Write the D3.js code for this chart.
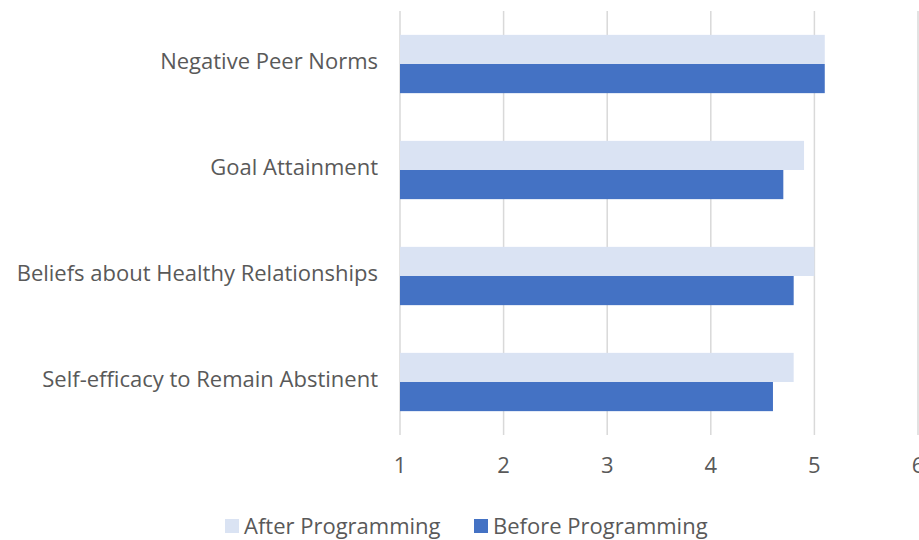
<!DOCTYPE html>
<html>
<head>
<meta charset="utf-8">
<script src="https://cdn.jsdelivr.net/npm/d3@7"></script>
<style>
  body { margin: 0; background: #fff; }
  svg text { font-family: "Open Sans", "Noto Sans", sans-serif; fill: #595959; }
</style>
</head>
<body>
<div class="chart"></div>
<script>
// data
const categories = ['Negative Peer Norms', 'Goal Attainment', 'Beliefs about Healthy Relationships', 'Self-efficacy to Remain Abstinent'];
const seriesNames = ['After Programming', 'Before Programming'];
const afterValues = [5.1, 4.9, 5.0, 4.8];
const beforeValues = [5.1, 4.7, 4.8, 4.6];
const xTicks = [1, 2, 3, 4, 5, 6];

const colors = ['#DAE3F3', '#4472C4'];

const W = 919, H = 540;
const margin = {top: 11, right: 1, bottom: 105, left: 400};
const fontSize = '22px';

const svg = d3.select('.chart')
  .append('svg')
  .attr('width', W)
  .attr('height', H);

const x = d3.scaleLinear()
  .domain([1, 6])
  .range([margin.left, 918]);

const y = d3.scaleBand()
  .domain(categories)
  .range([margin.top, H - margin.bottom])
  .paddingInner(0.45)
  .paddingOuter(0.225);

const y1 = d3.scaleBand()
  .domain(seriesNames)
  .range([0, y.bandwidth()]);

// gridlines
svg.append('g')
  .selectAll('line')
  .data(xTicks)
  .join('line')
  .attr('x1', d => x(d))
  .attr('x2', d => x(d))
  .attr('y1', margin.top)
  .attr('y2', H - margin.bottom)
  .attr('stroke', '#D9D9D9')
  .attr('stroke-width', 1.5);

const rows = categories.map((c, i) => ({cat: c, vals: [afterValues[i], beforeValues[i]]}));

const groups = svg.append('g')
  .selectAll('g')
  .data(rows)
  .join('g')
  .attr('transform', d => `translate(0,${y(d.cat)})`);

groups.selectAll('rect')
  .data(d => d.vals.map((v, j) => ({name: seriesNames[j], v: v, j: j})))
  .join('rect')
  .attr('x', x(1))
  .attr('y', d => y1(d.name))
  .attr('width', d => x(d.v) - x(1))
  .attr('height', y1.bandwidth())
  .attr('fill', d => colors[d.j]);

// category labels (sit a touch above the group centre)
svg.append('g')
  .selectAll('text')
  .data(categories)
  .join('text')
  .attr('x', 378)
  .attr('y', d => y(d) + y.bandwidth() / 2 - 3)
  .attr('dy', '0.35em')
  .attr('text-anchor', 'end')
  .style('font-size', fontSize)
  .text(d => d);

// x tick labels
svg.append('g')
  .selectAll('text')
  .data(xTicks)
  .join('text')
  .attr('x', d => x(d))
  .attr('y', 465)
  .attr('dy', '0.35em')
  .attr('text-anchor', 'middle')
  .style('font-size', fontSize)
  .text(d => d);

// legend
const legendX = [225, 474];
const legend = svg.append('g')
  .selectAll('g')
  .data(seriesNames)
  .join('g')
  .attr('transform', (d, i) => `translate(${legendX[i]},526)`);

legend.append('rect')
  .attr('x', 0)
  .attr('y', -7)
  .attr('width', 14)
  .attr('height', 14)
  .attr('fill', (d, i) => colors[i]);

legend.append('text')
  .attr('x', 19)
  .attr('y', 0)
  .attr('dy', '0.35em')
  .style('font-size', fontSize)
  .text(d => d);
</script>
</body>
</html>
